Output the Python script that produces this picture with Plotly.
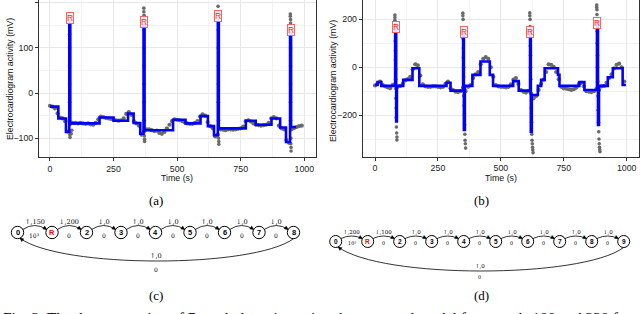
import numpy as np
import plotly.graph_objects as go

# ---------------- data : record 100 (panel a) ----------------
sample_t = list(range(0, 1000, 10))
a_gray = [-28, -30, -34, -45, -54, -56, -62, -85, -68, -66,
          -66, -67, -66, -67, -68, -67, -69, -70, -66, -58,
          -52, -53, -55, -56, -57, -58, -60, -61, -60, -56,
          -46, -42, -48, -62, -67, -72, -92, -85, -80, -80,
          -82, -84, -83, -88, -90, -86, -78, -70, -62, -58,
          -59, -60, -62, -65, -67, -68, -68, -66, -62, -52,
          -47, -50, -64, -73, -78, -96, -92, -80, -81, -82,
          -80, -80, -81, -80, -79, -78, -74, -62, -60, -63,
          -67, -70, -71, -72, -71, -70, -66, -56, -53, -56,
          -72, -78, -80, -104, -110, -80, -77, -75, -73, -72]
a_spike_t = [76, 77, 77, 77, 77, 77, 77, 78, 78, 79, 84, 86,
             369, 369, 370, 370, 370, 370, 370, 370, 370, 371, 371, 372, 372,
             661, 661, 662, 662, 662, 662, 662, 662, 663, 663, 664, 664,
             945, 945, 946, 946, 946, 946, 946, 946, 946, 946, 947, 947, 948, 948]
a_spike_v = [160, 130, 100, 60, 20, -20, -60, -85, -92, -98, -90, -82,
             188, 180, 172, 164, 140, 100, 60, 20, -20, -60, -95, -102, -107,
             192, 178, 165, 140, 100, 60, 20, -20, -60, -100, -107, -113,
             175, 170, 163, 155, 140, 100, 60, 20, -20, -60, -100, -112, -120, -128]
a_step_t = [0, 33, 63, 76, 80, 195, 250, 307, 329, 355, 368, 372, 484, 533, 592,
            621, 645, 660, 664, 770, 809, 871, 905, 928, 944, 948, 968]
a_step_v = [-30, -56, -86, 157, -67, -54, -61, -45, -66, -90, 151, -82, -59, -67, -51,
            -73, -93, 158, -78, -61, -70, -56, -76, -108, 133, -75, -75]
a_r_t = [77, 370, 662, 946]
a_r_v = [166, 158, 170, 140]

# ---------------- data : record 220 (panel b) ----------------
b_gray = [-76, -68, -60, -74, -80, -84, -88, -75, -70, -82,
          -78, -70, -55, -50, -40, -8, 12, 8, -35, -72,
          -80, -82, -82, -80, -80, -82, -84, -82, -70, -60,
          -88, -96, -102, -104, -100, -85, -100, -82, -75, -45,
          -30, -20, 12, 35, 42, 35, 0, -40, -75, -80,
          -82, -82, -84, -82, -72, -52, -45, -70, -96, -102,
          -106, -100, -110, -130, -120, -95, -70, -52, -20, 12,
          10, 2, -20, -50, -82, -88, -90, -92, -95, -92,
          -85, -70, -65, -80, -100, -102, -104, -100, -90, -95,
          -80, -78, -65, -45, -30, -5, 10, 15, 0, -60]
b_spike_t = [79, 79, 79, 80, 80, 80, 81, 81, 82, 82, 83, 83, 84, 84, 85, 86, 87, 87,
             349, 349, 350, 350, 350, 351, 351, 352, 352, 353, 353, 354, 355, 356, 357, 358, 359, 360,
             615, 615, 616, 616, 617, 617, 618, 618, 619, 620, 621, 622, 623, 624, 625, 626, 627, 628,
             881, 881, 882, 882, 882, 883, 883, 884, 884, 885, 886, 887, 888, 889, 890, 891, 892, 893, 894]
b_spike_v = [218, 208, 196, 182, 150, 110, 70, 30, -10, -50, -90, -130, -170, -210, -250, -275, -292, -304,
             226, 215, 200, 160, 120, 80, 40, 0, -40, -80, -120, -160, -200, -240, -280, -305, -320, -338,
             227, 215, 200, 170, 130, 90, 50, 0, -50, -110, -170, -230, -280, -305, -320, -335, -345, -357,
             260, 250, 240, 220, 190, 150, 100, 50, 0, -60, -120, -180, -230, -270, -300, -320, -335, -345, -353]
b_step_t = [0, 10, 25, 80, 84, 87, 112, 149, 176, 284, 300, 350, 353, 357, 387, 419, 456, 469,
            549, 571, 616, 619, 623, 647, 660, 674, 727, 733, 812, 832, 882, 886, 890, 925, 945, 984, 997]
b_step_v = [-74, -62, -78, 170, -227, -78, -53, -4, -78, -65, -98, 142, -262, -78, -32, 24, -32, -78,
            -58, -98, 150, -269, -116, -78, -53, -4, -32, -78, -62, -95, 184, -241, -78, -42, -4, -74, -74]
b_r_t = [83, 353, 617, 884]
b_r_v = [170, 149, 149, 186]

# ---------------- automata (c) and (d) ----------------
c_states = ['0', 'R', '2', '3', '4', '5', '6', '7', '8']
c_upper = ['↑,150', '↓,200', '↓,0', '↑,0', '↓,0', '↑,0', '↓,0', '↓,0']
c_lower = ['10³', '0', '0', '0', '0', '0', '0', '0']
c_back = ['↑,0', '0']
d_states = ['0', 'R', '2', '3', '4', '5', '6', '7', '8', '9']
d_upper = ['↑,200', '↓,100', '↑,0', '↑,0', '↑,0', '↓,0', '↓,0', '↑,0', '↓,0']
d_lower = ['10³', '0', '0', '0', '0', '0', '0', '0', '0']
d_back = ['↑,0', '0']

captions = ['(a)', '(b)', '(c)', '(d)']
fig_caption = ("Fig. 2: The documentation of R-peak detection using the proposed model "
               "for records 100 and 220 from the MIT-BIH")

W, H = 640, 314
GRAY = '#6a6a6a'
BLUE = '#0000ff'

fig = go.Figure()

def add_panel(xa, ya, gray, st, sv, stp_t, stp_v):
    fig.add_trace(go.Scatter(x=sample_t, y=gray, mode='markers', xaxis=xa, yaxis=ya,
                             marker=dict(color=GRAY, size=4.2, line=dict(width=0)),
                             hoverinfo='skip', showlegend=False))
    fig.add_trace(go.Scatter(x=st, y=sv, mode='markers', xaxis=xa, yaxis=ya,
                             marker=dict(color=GRAY, size=3.6, line=dict(width=0)),
                             hoverinfo='skip', showlegend=False))
    fig.add_trace(go.Scatter(x=stp_t, y=stp_v, mode='lines', xaxis=xa, yaxis=ya,
                             line=dict(color=BLUE, width=2.6, shape='hv'),
                             hoverinfo='skip', showlegend=False))

add_panel('x', 'y', a_gray, a_spike_t, a_spike_v, a_step_t, a_step_v)
add_panel('x2', 'y2', b_gray, b_spike_t, b_spike_v, b_step_t, b_step_v)
# overlay pixel axis
fig.add_trace(go.Scatter(x=[None], y=[None], xaxis='x3', yaxis='y3', showlegend=False))

annotations = []
for t, v in zip(a_r_t, a_r_v):
    annotations.append(dict(x=t, y=v, xref='x', yref='y', text='R', showarrow=False,
                            font=dict(color='#ff2020', size=8.5, family='Liberation Sans'),
                            bgcolor='rgba(255,255,255,0.85)', bordercolor='#ff6060',
                            borderwidth=1, borderpad=0))
for t, v in zip(b_r_t, b_r_v):
    annotations.append(dict(x=t, y=v, xref='x2', yref='y2', text='R', showarrow=False,
                            font=dict(color='#ff2020', size=8.5, family='Liberation Sans'),
                            bgcolor='rgba(255,255,255,0.85)', bordercolor='#ff6060',
                            borderwidth=1, borderpad=0))

def pix(x, y, text, size, family='Liberation Serif', color='black', angle=0,
        xanchor='center', yanchor='middle'):
    annotations.append(dict(x=x, y=y, xref='x3', yref='y3', text=text, showarrow=False,
                            textangle=angle, xanchor=xanchor, yanchor=yanchor,
                            font=dict(size=size, family=family, color=color)))

# axis titles
pix(10, 79, 'Electrocardiogram activity (mV)', 8.8, 'Liberation Sans', '#111', -90)
pix(333, 81, 'Electrocardiogram activity (mV)', 8.8, 'Liberation Sans', '#111', -90)
pix(177, 178, 'Time (s)', 8.8, 'Liberation Sans', '#111')
pix(501, 178, 'Time (s)', 8.8, 'Liberation Sans', '#111')
# sub captions
pix(156, 200, captions[0], 13)
pix(481, 200, captions[1], 13)
pix(156, 295, captions[2], 13)
pix(481, 295, captions[3], 13)
pix(0.5, 306.5, fig_caption, 15.5, xanchor='left', yanchor='top')

shapes = []

def head(tx, ty, fx, fy, L=3.4, Wd=1.7):
    d = np.array([tx - fx, ty - fy], dtype=float)
    d /= np.linalg.norm(d)
    n = np.array([-d[1], d[0]])
    b = np.array([tx, ty]) - d * L
    p1 = b + n * Wd
    p2 = b - n * Wd
    return f"M {tx:.2f},{ty:.2f} L {p1[0]:.2f},{p1[1]:.2f} L {p2[0]:.2f},{p2[1]:.2f} Z"

LBL = 'DejaVu Serif'

def automaton(states, upper, lower, back, x0, dx, cy, r, lab_up, lab_lo, peak, fs, back_low, back_lab):
    xs = [x0 + i * dx for i in range(len(states))]
    for i, s in enumerate(states):
        shapes.append(dict(type='circle', xref='x3', yref='y3', x0=xs[i] - r, x1=xs[i] + r,
                           y0=cy - r, y1=cy + r, line=dict(color='black', width=1)))
        pix(xs[i], cy, f'<b>{s}</b>', fs + 0.5, 'Liberation Sans',
            '#ff0000' if s == 'R' else 'black')
    for i in range(len(states) - 1):
        x1, y1 = xs[i] + r * 0.87, cy - r * 0.5
        x2, y2 = xs[i + 1] - r * 0.87, cy - r * 0.5
        cxp, cyp = (x1 + x2) / 2, 2 * (cy - peak) - y1
        shapes.append(dict(type='path', xref='x3', yref='y3',
                           path=f"M {x1:.2f},{y1:.2f} Q {cxp:.2f},{cyp:.2f} {x2:.2f},{y2:.2f}",
                           line=dict(color='black', width=0.8)))
        shapes.append(dict(type='path', xref='x3', yref='y3', path=head(x2, y2, cxp, cyp),
                           fillcolor='black', line=dict(color='black', width=0.5)))
        pix((xs[i] + xs[i + 1]) / 2, cy - lab_up, upper[i], fs - 0.5, LBL)
        pix((xs[i] + xs[i + 1]) / 2, cy + lab_lo, lower[i], fs - 1, LBL)
    # return arc
    sx, sy = xs[-1], cy + r
    ex, ey = xs[0] + 2.5, cy + r - 0.5
    ctrl = (back_low - 0.25 * (sy + ey) / 2) / 0.75
    c1x, c2x = sx - 0.15 * (sx - ex), ex + 0.15 * (sx - ex)
    shapes.append(dict(type='path', xref='x3', yref='y3',
                       path=f"M {sx:.2f},{sy:.2f} C {c1x:.2f},{ctrl:.2f} {c2x:.2f},{ctrl:.2f} {ex:.2f},{ey:.2f}",
                       line=dict(color='black', width=0.8)))
    shapes.append(dict(type='path', xref='x3', yref='y3', path=head(ex, ey, c2x, ctrl),
                       fillcolor='black', line=dict(color='black', width=0.5)))
    mid = (xs[0] + xs[-1]) / 2
    pix(mid, back_lab[0], back[0], fs - 0.5, LBL)
    pix(mid, back_lab[1], back[1], fs - 1, LBL)

automaton(c_states, c_upper, c_lower, c_back, 17.5, 34.5, 232.5, 6.2, 11, 2.5, 7, 7,
          261, (256, 269))
automaton(d_states, d_upper, d_lower, d_back, 335.7, 32.0, 241.5, 6.0, 9.5, 1.5, 5.5, 6,
          271, (266, 277))

axis_common = dict(showline=True, linecolor='#333333', linewidth=1, ticks='outside',
                   ticklen=3, tickwidth=1, tickcolor='#333333', showgrid=True,
                   gridcolor='#e8e8e8', gridwidth=1, zeroline=False,
                   tickfont=dict(size=8.8, family='Liberation Sans', color='#222'))
minor_common = dict(showgrid=True, gridcolor='#f3f3f3', gridwidth=0.6)

fig.update_layout(
    width=W, height=H, margin=dict(l=0, r=0, t=0, b=0),
    paper_bgcolor='white', plot_bgcolor='rgba(0,0,0,0)', showlegend=False,
    xaxis=dict(domain=[39 / W, 316 / W], range=[-43, 1046], anchor='y', tick0=0, dtick=250,
               minor=dict(dtick=125, tick0=0, **minor_common), **axis_common),
    yaxis=dict(domain=[1 - 157.3 / H, 1], range=[-142, 206], anchor='x', tick0=0, dtick=100,
               mirror=True, minor=dict(dtick=50, tick0=0, **minor_common), **axis_common),
    xaxis2=dict(domain=[362.7 / W, 639 / W], range=[-49, 1049], anchor='y2', tick0=0, dtick=250,
                minor=dict(dtick=125, tick0=0, **minor_common), **axis_common),
    yaxis2=dict(domain=[1 - 156.7 / H, 1], range=[-374, 281], anchor='x2', tick0=0, dtick=200,
                mirror=True, minor=dict(dtick=100, tick0=0, **minor_common), **axis_common),
    xaxis3=dict(domain=[0, 1], range=[0, W], visible=False, fixedrange=True, anchor='y3'),
    yaxis3=dict(domain=[0, 1], range=[H, 0], visible=False, fixedrange=True, anchor='x3'),
    annotations=annotations, shapes=shapes,
)

fig.write_html("out.html", config={'displayModeBar': False},
               post_script="document.body.style.margin='0px';")
